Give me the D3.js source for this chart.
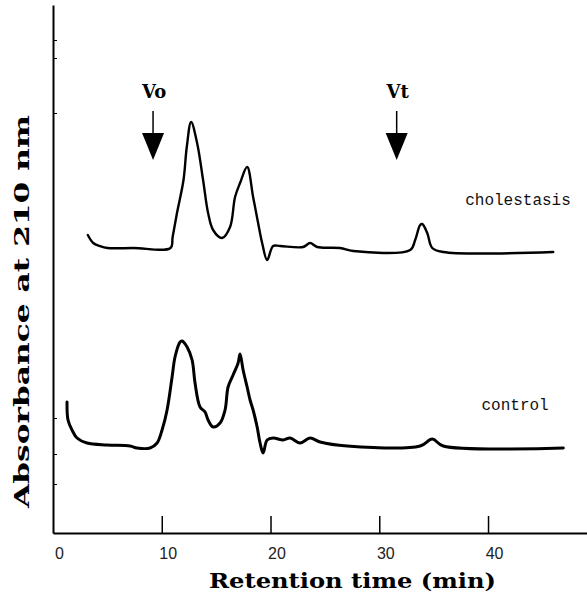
<!DOCTYPE html>
<html>
<head>
<meta charset="utf-8">
<script src="https://cdn.jsdelivr.net/npm/d3@7"></script>
<style>
  html, body { margin: 0; padding: 0; background: #fff; }
  svg { display: block; }
</style>
</head>
<body>
<svg id="chart" width="587" height="600"></svg>
<script>
// Retention time (min) and absorbance (arbitrary units)
const cholestasisTime = [3.2, 3.7, 4.3, 5.0, 7.4, 10.8, 11.0, 11.4, 12.0, 12.3, 12.7, 13.25, 13.8, 14.26, 14.72, 15.55, 16.28, 16.74, 17.2, 17.85, 18.4, 18.86, 19.23, 19.69, 20.24, 20.88, 23.0, 23.64, 24.29, 26.4, 27.6, 32.84, 33.3, 33.76, 33.95, 34.41, 34.87, 35.88, 46.0];
const cholestasisAbs  = [0.298, 0.290, 0.287, 0.285, 0.285, 0.285, 0.296, 0.320, 0.353, 0.386, 0.411, 0.390, 0.353, 0.320, 0.303, 0.295, 0.306, 0.336, 0.350, 0.366, 0.336, 0.310, 0.290, 0.273, 0.287, 0.287, 0.286, 0.290, 0.286, 0.285, 0.282, 0.283, 0.293, 0.308, 0.309, 0.300, 0.285, 0.281, 0.281];

const controlTime = [1.29, 1.38, 1.75, 2.21, 3.13, 4.97, 7.08, 7.73, 8.92, 9.57, 10.03, 10.49, 10.95, 11.22, 11.68, 11.87, 12.33, 12.79, 13.06, 13.52, 13.98, 14.26, 14.72, 15.36, 15.82, 16.1, 16.56, 17.02, 17.2, 17.48, 17.85, 18.12, 18.4, 18.77, 19.04, 19.32, 19.69, 20.24, 21.16, 21.8, 22.72, 23.64, 24.56, 27.05, 33.76, 34.87, 35.88, 46.92];
const controlAbs  = [0.131, 0.113, 0.103, 0.095, 0.090, 0.088, 0.087, 0.085, 0.085, 0.090, 0.103, 0.123, 0.156, 0.176, 0.191, 0.192, 0.186, 0.173, 0.150, 0.126, 0.121, 0.113, 0.106, 0.110, 0.123, 0.146, 0.158, 0.170, 0.179, 0.163, 0.146, 0.133, 0.123, 0.106, 0.090, 0.080, 0.093, 0.095, 0.093, 0.095, 0.090, 0.095, 0.091, 0.087, 0.087, 0.094, 0.087, 0.085];

const xTicks = [0, 10, 20, 30, 40];
const yTicks = [0.049, 0.079, 0.115, 0.42, 0.475, 0.493];

const markerNames = ["Vo", "Vt"];
const markerTimes = [9.2, 31.6];

const seriesNames = ["cholestasis", "control"];
const seriesLabelPos = [[37.9, 0.328], [39.4, 0.123]]; // label anchor (time, abs)

const svg = d3.select("#chart");

const x = d3.scaleLinear().domain([0, 49.1]).range([53, 587]);
const y = d3.scaleLinear().domain([0, 0.528]).range([533, 5]);

// x axis
const xAxis = d3.axisBottom(x)
  .tickValues(xTicks)
  .tickSizeInner(-17)
  .tickSizeOuter(0)
  .tickPadding(15)
  .tickFormat(d3.format("d"));

const gx = svg.append("g").attr("transform", "translate(0,533)").call(xAxis);
gx.select(".domain").attr("stroke", "#000").attr("stroke-width", 2);
gx.selectAll(".tick line").attr("stroke", "#000").attr("stroke-width", 1.5);
gx.selectAll(".tick").filter(d => d === 0).select("line").remove();
gx.selectAll(".tick text")
  .attr("font-family", "'Liberation Sans', Arial, sans-serif")
  .attr("font-size", 16)
  .attr("fill", "#222")
  .attr("dx", 6);

// y axis (no labels, small inward ticks)
const yAxis = d3.axisRight(y)
  .tickValues(yTicks)
  .tickSizeInner(4)
  .tickSizeOuter(0)
  .tickFormat("");
const gy = svg.append("g").attr("transform", "translate(53,0)").call(yAxis);
gy.select(".domain").attr("stroke", "#000").attr("stroke-width", 2);
gy.selectAll(".tick line").attr("stroke", "#000").attr("stroke-width", 1);

// axis titles
svg.append("text")
  .attr("x", 209).attr("y", 588)
  .attr("textLength", 287).attr("lengthAdjust", "spacingAndGlyphs")
  .attr("font-family", "'DejaVu Serif', serif")
  .attr("font-weight", "bold")
  .attr("font-size", 21)
  .attr("fill", "#000")
  .text("Retention time (min)");

svg.append("text")
  .attr("transform", "translate(29,508) rotate(-90)")
  .attr("x", 0).attr("y", 0)
  .attr("textLength", 393).attr("lengthAdjust", "spacingAndGlyphs")
  .attr("font-family", "'DejaVu Serif', serif")
  .attr("font-weight", "bold")
  .attr("font-size", 21)
  .attr("fill", "#000")
  .text("Absorbance at 210 nm");

// traces
const line = d3.line()
  .x(d => x(d[0]))
  .y(d => y(d[1]))
  .curve(d3.curveCatmullRom.alpha(0.5));

const chol = cholestasisTime.map((t, i) => [t, cholestasisAbs[i]]);
const ctrl = controlTime.map((t, i) => [t, controlAbs[i]]);

svg.append("path").datum(chol)
  .attr("d", line).attr("fill", "none")
  .attr("stroke", "#000").attr("stroke-width", 2.4)
  .attr("stroke-linejoin", "round").attr("stroke-linecap", "round");

svg.append("path").datum(ctrl)
  .attr("d", line).attr("fill", "none")
  .attr("stroke", "#000").attr("stroke-width", 3)
  .attr("stroke-linejoin", "round").attr("stroke-linecap", "round");

// series labels
seriesNames.forEach((name, i) => {
  svg.append("text")
    .attr("x", x(seriesLabelPos[i][0]))
    .attr("y", y(seriesLabelPos[i][1]))
    .attr("font-family", "'Liberation Mono', 'Courier New', monospace")
    .attr("font-size", 16)
    .attr("fill", "#111")
    .text(name);
});

// Vo / Vt markers
markerNames.forEach((name, i) => {
  const cx = x(markerTimes[i]);
  svg.append("text")
    .attr("x", cx + 1).attr("y", 98)
    .attr("text-anchor", "middle")
    .attr("font-family", "'DejaVu Serif', serif")
    .attr("font-weight", "bold")
    .attr("font-size", 18)
    .attr("fill", "#000")
    .text(name);
  svg.append("line")
    .attr("x1", cx).attr("x2", cx)
    .attr("y1", 111).attr("y2", 138)
    .attr("stroke", "#000").attr("stroke-width", 1.5);
  svg.append("path")
    .attr("d", `M${cx - 11},133 L${cx + 11},133 L${cx},160 Z`)
    .attr("fill", "#000");
});
</script>
</body>
</html>
